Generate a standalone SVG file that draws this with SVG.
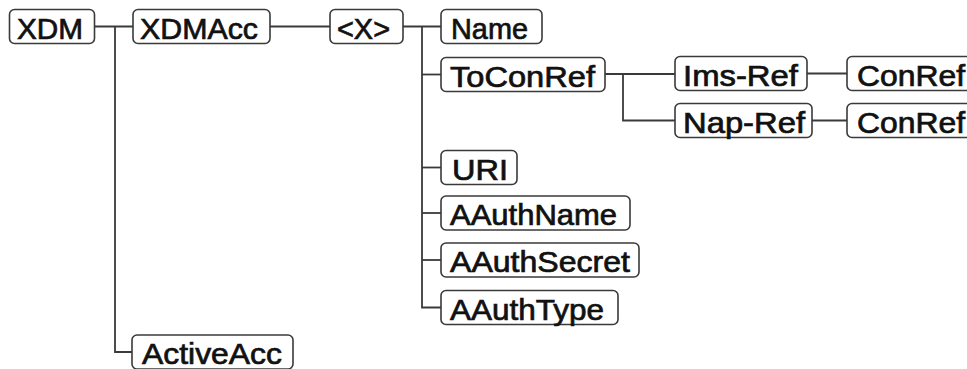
<svg xmlns="http://www.w3.org/2000/svg" width="967" height="369" viewBox="0 0 967 369">
  <style>
    .box { fill: #ffffff; stroke: #3a3a3a; stroke-width: 1.6; }
    .lbl { font-family: "Liberation Sans", Arial, sans-serif; font-size: 29px; font-weight: normal; fill: #111111; stroke: #111111; stroke-width: 0.7; }
    .wire { fill: none; stroke: #3a3a3a; stroke-width: 1.8; }
  </style>
  <rect width="967" height="369" fill="#ffffff"/>

  <!-- tree connectors -->
  <g id="connectors">
    <path class="wire" d="M95 26.5 H133"/>
    <path class="wire" d="M115 26.5 V352 H132"/>
    <path class="wire" d="M270 26.5 H330"/>
    <path class="wire" d="M403 26.5 H441"/>
    <path class="wire" d="M422 26.5 V307.5 H441"/>
    <path class="wire" d="M422 74.5 H441"/>
    <path class="wire" d="M422 167.5 H441"/>
    <path class="wire" d="M422 213 H441"/>
    <path class="wire" d="M422 260 H441"/>
    <path class="wire" d="M605 74 H675"/>
    <path class="wire" d="M623 74 V120.5 H675"/>
    <path class="wire" d="M807 73.5 H847"/>
    <path class="wire" d="M812 120.5 H847"/>
  </g>

  <g id="xdm">
    <rect class="box" x="9.5" y="9.5" width="85" height="34" rx="5"/>
    <text class="lbl" x="17" y="38.5" textLength="66" lengthAdjust="spacingAndGlyphs">XDM</text>
  </g>
  <g id="xdmacc">
    <rect class="box" x="133" y="9.5" width="137" height="34" rx="5"/>
    <text class="lbl" x="140" y="38.5" textLength="118" lengthAdjust="spacingAndGlyphs">XDMAcc</text>
  </g>
  <g id="x">
    <rect class="box" x="330" y="9.5" width="73" height="34" rx="5"/>
    <text class="lbl" x="337" y="38.5" textLength="53" lengthAdjust="spacingAndGlyphs">&lt;X&gt;</text>
  </g>
  <g id="name">
    <rect class="box" x="441" y="9.5" width="101" height="34" rx="5"/>
    <text class="lbl" x="451" y="38.5" textLength="77" lengthAdjust="spacingAndGlyphs">Name</text>
  </g>
  <g id="toconref">
    <rect class="box" x="441" y="57.5" width="164" height="34" rx="5"/>
    <text class="lbl" x="450" y="86.5" textLength="145" lengthAdjust="spacingAndGlyphs">ToConRef</text>
  </g>
  <g id="ims-ref">
    <rect class="box" x="675" y="56.5" width="132" height="34" rx="5"/>
    <text class="lbl" x="683" y="85.5" textLength="115" lengthAdjust="spacingAndGlyphs">Ims-Ref</text>
  </g>
  <g id="conref-ims">
    <rect class="box" x="847" y="56.5" width="130" height="34" rx="5"/>
    <text class="lbl" x="857" y="85.5" textLength="108" lengthAdjust="spacingAndGlyphs">ConRef</text>
  </g>
  <g id="nap-ref">
    <rect class="box" x="675" y="103.5" width="137" height="34" rx="5"/>
    <text class="lbl" x="683" y="132.5" textLength="122" lengthAdjust="spacingAndGlyphs">Nap-Ref</text>
  </g>
  <g id="conref-nap">
    <rect class="box" x="847" y="103.5" width="130" height="34" rx="5"/>
    <text class="lbl" x="857" y="132.5" textLength="108" lengthAdjust="spacingAndGlyphs">ConRef</text>
  </g>
  <g id="uri">
    <rect class="box" x="441" y="150.5" width="76" height="34" rx="5"/>
    <text class="lbl" x="452" y="179.5" textLength="56" lengthAdjust="spacingAndGlyphs">URI</text>
  </g>
  <g id="aauthname">
    <rect class="box" x="441" y="196" width="189" height="34" rx="5"/>
    <text class="lbl" x="450" y="225" textLength="167" lengthAdjust="spacingAndGlyphs">AAuthName</text>
  </g>
  <g id="aauthsecret">
    <rect class="box" x="441" y="243" width="198" height="34" rx="5"/>
    <text class="lbl" x="450" y="272" textLength="180" lengthAdjust="spacingAndGlyphs">AAuthSecret</text>
  </g>
  <g id="aauthtype">
    <rect class="box" x="441" y="290.5" width="177" height="34" rx="5"/>
    <text class="lbl" x="450" y="319.5" textLength="154" lengthAdjust="spacingAndGlyphs">AAuthType</text>
  </g>
  <g id="activeacc">
    <rect class="box" x="132" y="335" width="161" height="34" rx="5"/>
    <text class="lbl" x="142" y="364" textLength="140" lengthAdjust="spacingAndGlyphs">ActiveAcc</text>
  </g>
</svg>
